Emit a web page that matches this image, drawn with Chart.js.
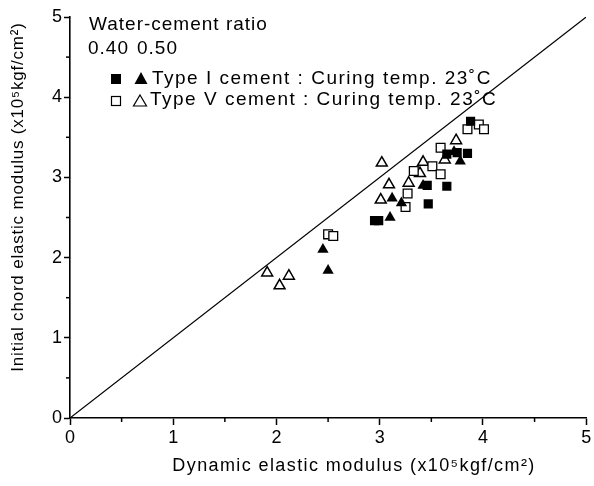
<!DOCTYPE html>
<html>
<head>
<meta charset="utf-8">
<script src="https://cdn.jsdelivr.net/npm/chart.js@4"></script>
<style>
  html, body { margin: 0; padding: 0; background: #fff; }
</style>
</head>
<body>
<canvas id="grafico" width="594" height="486"></canvas>
<script>
// dados (x = dinâmico, y = corda inicial), x10^5 kgf/cm2
const tipoI_040 = [
  { x: 2.95, y: 2.46 }, { x: 2.99, y: 2.46 }, { x: 3.46, y: 2.90 }, { x: 3.47, y: 2.67 },
  { x: 3.65, y: 2.89 }, { x: 3.65, y: 3.29 }, { x: 3.75, y: 3.31 }, { x: 3.85, y: 3.30 },
  { x: 3.88, y: 3.70 }
];
const tipoI_050 = [
  { x: 2.45, y: 2.10 }, { x: 2.50, y: 1.84 }, { x: 3.10, y: 2.50 }, { x: 3.12, y: 2.74 },
  { x: 3.21, y: 2.68 }, { x: 3.42, y: 2.90 }, { x: 3.72, y: 3.32 }, { x: 3.78, y: 3.20 }
];
const tipoV_040 = [
  { x: 2.50, y: 2.29 }, { x: 2.55, y: 2.27 }, { x: 3.25, y: 2.63 }, { x: 3.27, y: 2.80 },
  { x: 3.33, y: 3.08 }, { x: 3.51, y: 3.14 }, { x: 3.59, y: 3.04 }, { x: 3.59, y: 3.37 },
  { x: 3.85, y: 3.60 }, { x: 3.96, y: 3.66 }, { x: 4.01, y: 3.60 }
];
const tipoV_050 = [
  { x: 1.91, y: 1.81 }, { x: 2.03, y: 1.65 }, { x: 2.12, y: 1.77 }, { x: 3.01, y: 2.72 },
  { x: 3.02, y: 3.18 }, { x: 3.09, y: 2.91 }, { x: 3.28, y: 2.93 }, { x: 3.39, y: 3.05 },
  { x: 3.42, y: 3.19 }, { x: 3.63, y: 3.22 }, { x: 3.74, y: 3.46 }
];
const linhaIgual = [{ x: 0, y: 0 }, { x: 5, y: 5 }];

const eixoMin = 0;
const eixoMax = 5;
const ticksMenores = [0.5, 1.5, 2.5, 3.5, 4.5];

const tituloX = 'Dynamic elastic modulus (x10\u2075kgf/cm\u00B2)';
const tituloY = 'Initial chord elastic modulus (x10\u2075kgf/cm\u00B2)';
const legendaTitulo = 'Water-cement ratio';
const legendaRazoes = ['0.40', '0.50'];
const legendaLinhas = [
  'Type I cement : Curing temp. 23\u02DAC',
  'Type V cement : Curing temp. 23\u02DAC'
];

const FONTE = '"Liberation Sans", Arial, sans-serif';

// ticks menores, títulos dos eixos e legenda desenhados à mão
const extrasPlugin = {
  id: 'extras',
  afterDraw(chart) {
    const ctx = chart.ctx;
    const sx = chart.scales.x;
    const sy = chart.scales.y;
    const area = chart.chartArea;

    ctx.save();
    ctx.strokeStyle = '#000';
    ctx.lineWidth = 1.5;
    ticksMenores.forEach(v => {
      const px = sx.getPixelForValue(v);
      ctx.beginPath();
      ctx.moveTo(px, area.bottom);
      ctx.lineTo(px, area.bottom + 4);
      ctx.stroke();
      const py = sy.getPixelForValue(v);
      ctx.beginPath();
      ctx.moveTo(area.left, py);
      ctx.lineTo(area.left - 4, py);
      ctx.stroke();
    });

    ctx.fillStyle = '#000';
    ctx.textBaseline = 'middle';

    // títulos dos eixos
    ctx.textAlign = 'center';
    ctx.font = '18px ' + FONTE;
    ctx.letterSpacing = '1.4px';
    ctx.fillText(tituloX, 354, 466);
    ctx.save();
    ctx.translate(18, 197);
    ctx.rotate(-Math.PI / 2);
    ctx.font = '17px ' + FONTE;
    ctx.letterSpacing = '0.8px';
    ctx.fillText(tituloY, 0, 0);
    ctx.restore();

    // legenda
    ctx.textAlign = 'left';
    ctx.font = '19px ' + FONTE;
    ctx.letterSpacing = '1px';
    ctx.fillText(legendaTitulo, 89, 25);
    ctx.fillText(legendaRazoes[0], 88, 49);
    ctx.fillText(legendaRazoes[1], 137, 49);

    // linha 1: cheios
    ctx.fillRect(111, 74, 10, 10);
    ctx.beginPath();
    ctx.moveTo(141, 72); ctx.lineTo(147.5, 84); ctx.lineTo(134.5, 84); ctx.closePath();
    ctx.fill();
    ctx.letterSpacing = '1.5px';
    ctx.fillText(legendaLinhas[0], 152, 79);

    // linha 2: vazios
    ctx.lineWidth = 1.2;
    ctx.strokeRect(111.5, 96.5, 9, 9);
    ctx.beginPath();
    ctx.moveTo(140, 95); ctx.lineTo(146.5, 106); ctx.lineTo(133.5, 106); ctx.closePath();
    ctx.stroke();
    ctx.fillText(legendaLinhas[1], 150, 100);
    ctx.restore();
  }
};

const escala = (eixo) => ({
  type: 'linear',
  min: eixoMin,
  max: eixoMax,
  ticks: {
    stepSize: 1,
    color: '#000',
    font: { family: FONTE, size: 18 },
    padding: eixo === 'x' ? 2 : 2
  },
  grid: {
    drawOnChartArea: false,
    drawTicks: true,
    tickLength: eixo === 'x' ? 7 : 6,
    tickColor: '#000',
    tickWidth: 1.5
  },
  border: { display: true, color: '#000', width: 1.6 },
  title: { display: false },
  afterFit(scale) {
    if (eixo === 'x') scale.height = 68;
    else scale.width = 70;
  }
});

new Chart(document.getElementById('grafico').getContext('2d'), {
  type: 'scatter',
  data: {
    datasets: [
      { label: 'Type I 0.40', data: tipoI_040, pointStyle: 'rect', pointRadius: 6.5,
        backgroundColor: '#000', borderColor: '#000', borderWidth: 0 },
      { label: 'Type I 0.50', data: tipoI_050, pointStyle: 'triangle', pointRadius: 6.5,
        backgroundColor: '#000', borderColor: '#000', borderWidth: 0 },
      { label: 'Type V 0.40', data: tipoV_040, pointStyle: 'rect', pointRadius: 6.2,
        backgroundColor: '#fff', borderColor: '#000', borderWidth: 1.3 },
      { label: 'Type V 0.50', data: tipoV_050, pointStyle: 'triangle', pointRadius: 6.3,
        backgroundColor: '#fff', borderColor: '#000', borderWidth: 1.5 },
      { type: 'line', label: '1:1', data: linhaIgual, borderColor: '#000', borderWidth: 1.2,
        pointRadius: 0, fill: false }
    ]
  },
  options: {
    responsive: false,
    animation: false,
    layout: { padding: { left: 0, right: 7, top: 17, bottom: 0 } },
    plugins: {
      legend: { display: false },
      tooltip: { enabled: false }
    },
    scales: {
      x: escala('x'),
      y: escala('y')
    }
  },
  plugins: [extrasPlugin]
});
</script>
</body>
</html>
